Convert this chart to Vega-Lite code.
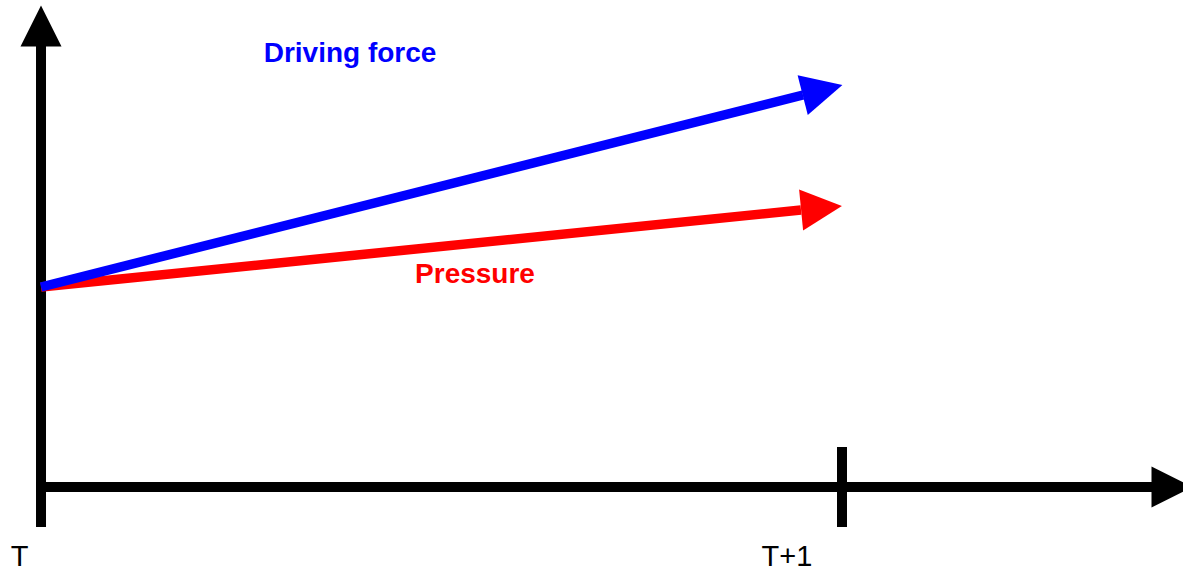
{
  "$schema": "https://vega.github.io/schema/vega-lite/v6.json",
  "width": 1183,
  "height": 569,
  "padding": 0,
  "autosize": {"type": "none"},
  "background": "white",
  "config": {"view": {"stroke": null}},
  "datasets": {
    "axes": [
      {"x": 0, "y": -0.2, "x2": 0, "y2": 2.25, "series": "axis"},
      {"x": -0.006, "y": 0, "x2": 1.40, "y2": 0, "series": "axis"},
      {"x": 1, "y": -0.2, "x2": 1, "y2": 0.2, "series": "axis"}
    ],
    "forces": [
      {"x": 0, "y": 1, "x2": 0.9488, "y2": 1.385, "series": "Pressure"},
      {"x": 0, "y": 1, "x2": 0.9513, "y2": 1.96, "series": "Driving force"}
    ],
    "heads": [
      {"x": 0, "y": 2.305, "angle": 0, "series": "axis"},
      {"x": 1.412, "y": 0, "angle": 90, "series": "axis"},
      {"x": 0.9744, "y": 1.395, "angle": 84.4, "series": "Pressure"},
      {"x": 0.9757, "y": 1.985, "angle": 75.6, "series": "Driving force"}
    ],
    "seriesLabels": [
      {"x": 0.3858, "y": 2.125, "label": "Driving force", "series": "Driving force"},
      {"x": 0.5418, "y": 1.0185, "label": "Pressure", "series": "Pressure"}
    ],
    "timeLabels": [
      {"x": -0.0268, "y": -0.393, "label": "T", "series": "axis"},
      {"x": 0.9313, "y": -0.393, "label": "T+1", "series": "axis"}
    ]
  },
  "layer": [
    {
      "data": {"name": "axes"},
      "mark": {"type": "rule", "strokeWidth": 10, "strokeCap": "butt"},
      "encoding": {
        "x": {"field": "x", "type": "quantitative", "axis": null, "scale": {"domain": [-0.0512, 1.4257], "nice": false, "zero": false}},
        "y": {"field": "y", "type": "quantitative", "axis": null, "scale": {"domain": [-0.41, 2.435], "nice": false, "zero": false}},
        "x2": {"field": "x2"},
        "y2": {"field": "y2"},
        "color": {"field": "series", "type": "nominal", "legend": null, "scale": {"domain": ["axis", "Pressure", "Driving force"], "range": ["#000000", "#ff0000", "#0000ff"]}}
      }
    },
    {
      "data": {"name": "forces"},
      "mark": {"type": "rule", "strokeWidth": 9.5, "strokeCap": "butt"},
      "encoding": {
        "x": {"field": "x", "type": "quantitative"},
        "y": {"field": "y", "type": "quantitative"},
        "x2": {"field": "x2"},
        "y2": {"field": "y2"},
        "color": {"field": "series", "type": "nominal", "legend": null}
      }
    },
    {
      "data": {"name": "heads"},
      "mark": {"type": "point", "shape": "M0,-1L1,1L-1,1Z", "filled": true, "opacity": 1, "strokeWidth": 0, "size": 1681},
      "encoding": {
        "x": {"field": "x", "type": "quantitative"},
        "y": {"field": "y", "type": "quantitative"},
        "angle": {"field": "angle", "type": "quantitative", "scale": null},
        "color": {"field": "series", "type": "nominal", "legend": null}
      }
    },
    {
      "data": {"name": "seriesLabels"},
      "mark": {"type": "text", "font": "Liberation Sans", "fontSize": 28, "fontWeight": "bold", "align": "center", "baseline": "alphabetic"},
      "encoding": {
        "x": {"field": "x", "type": "quantitative"},
        "y": {"field": "y", "type": "quantitative"},
        "text": {"field": "label"},
        "color": {"field": "series", "type": "nominal", "legend": null}
      }
    },
    {
      "data": {"name": "timeLabels"},
      "mark": {"type": "text", "font": "Liberation Sans", "fontSize": 29, "align": "center", "baseline": "alphabetic"},
      "encoding": {
        "x": {"field": "x", "type": "quantitative"},
        "y": {"field": "y", "type": "quantitative"},
        "text": {"field": "label"},
        "color": {"field": "series", "type": "nominal", "legend": null}
      }
    }
  ]
}
